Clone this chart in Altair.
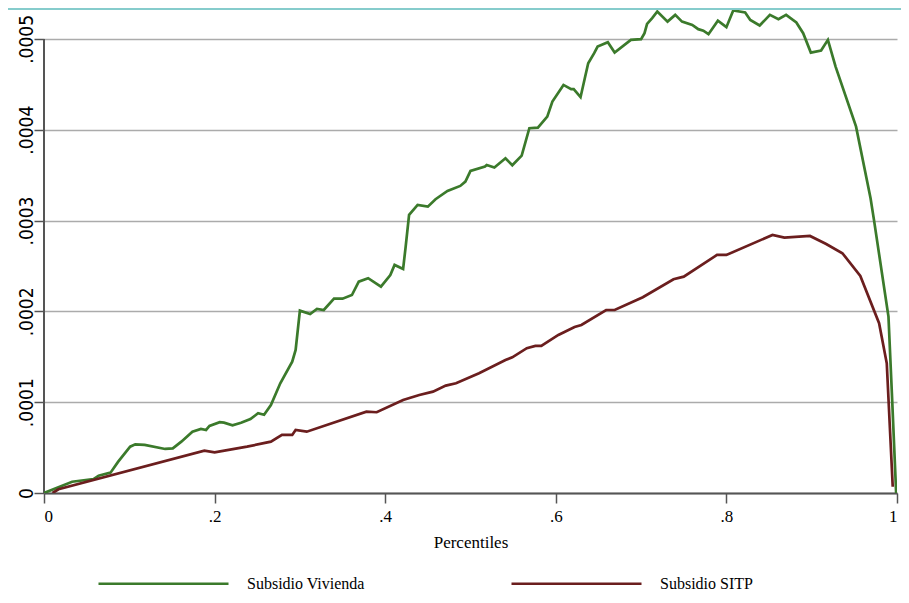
import altair as alt
import pandas as pd

series_names = ["Subsidio Vivienda", "Subsidio SITP"]
series_colors = ["#3b7a2b", "#6b1e1e"]

# Subsidio Vivienda (percentile, value)
pct_viv = [0.000, 0.033, 0.058, 0.064, 0.078, 0.087, 0.101, 0.107, 0.118, 0.142,
           0.151, 0.161, 0.174, 0.184, 0.190, 0.194, 0.206, 0.211, 0.221, 0.231,
           0.242, 0.251, 0.258, 0.266, 0.277, 0.291, 0.295, 0.300, 0.312, 0.320,
           0.328, 0.340, 0.350, 0.361, 0.369, 0.380, 0.395, 0.406, 0.411, 0.421,
           0.424, 0.428, 0.438, 0.450, 0.459, 0.473, 0.488, 0.494, 0.500, 0.517,
           0.519, 0.528, 0.541, 0.549, 0.560, 0.569, 0.579, 0.590, 0.596, 0.609,
           0.618, 0.621, 0.629, 0.634, 0.638, 0.645, 0.649, 0.661, 0.669, 0.688,
           0.700, 0.704, 0.707, 0.713, 0.719, 0.731, 0.740, 0.748, 0.760, 0.767,
           0.773, 0.779, 0.790, 0.800, 0.808, 0.822, 0.828, 0.839, 0.851, 0.861,
           0.870, 0.882, 0.890, 0.899, 0.911, 0.919, 0.928, 0.952, 0.969, 0.973,
           0.990, 0.994, 0.999]
val_viv = [0.000e-4, 0.124e-4, 0.154e-4, 0.190e-4, 0.224e-4, 0.345e-4, 0.510e-4, 0.536e-4, 0.529e-4, 0.485e-4,
           0.492e-4, 0.565e-4, 0.675e-4, 0.705e-4, 0.694e-4, 0.738e-4, 0.779e-4, 0.774e-4, 0.746e-4, 0.774e-4,
           0.815e-4, 0.878e-4, 0.862e-4, 0.969e-4, 1.208e-4, 1.446e-4, 1.575e-4, 2.008e-4, 1.971e-4, 2.026e-4,
           2.015e-4, 2.140e-4, 2.140e-4, 2.180e-4, 2.327e-4, 2.365e-4, 2.272e-4, 2.400e-4, 2.511e-4, 2.467e-4,
           2.713e-4, 3.062e-4, 3.172e-4, 3.153e-4, 3.235e-4, 3.326e-4, 3.381e-4, 3.429e-4, 3.546e-4, 3.594e-4,
           3.612e-4, 3.583e-4, 3.686e-4, 3.609e-4, 3.715e-4, 4.016e-4, 4.023e-4, 4.144e-4, 4.310e-4, 4.493e-4,
           4.446e-4, 4.446e-4, 4.358e-4, 4.567e-4, 4.732e-4, 4.843e-4, 4.915e-4, 4.964e-4, 4.849e-4, 4.989e-4,
           4.997e-4, 5.063e-4, 5.165e-4, 5.228e-4, 5.301e-4, 5.190e-4, 5.264e-4, 5.190e-4, 5.154e-4, 5.107e-4,
           5.091e-4, 5.052e-4, 5.201e-4, 5.129e-4, 5.312e-4, 5.290e-4, 5.209e-4, 5.147e-4, 5.264e-4, 5.217e-4,
           5.264e-4, 5.180e-4, 5.063e-4, 4.849e-4, 4.871e-4, 4.989e-4, 4.695e-4, 4.034e-4, 3.246e-4, 3.007e-4,
           1.942e-4, 1.098e-4, 0.000e-4]

# Subsidio SITP (percentile, value)
pct_sitp = [0.010, 0.017, 0.188, 0.200, 0.238, 0.266, 0.279, 0.291, 0.295, 0.308,
            0.378, 0.390, 0.421, 0.440, 0.456, 0.471, 0.483, 0.510, 0.541, 0.549,
            0.566, 0.576, 0.583, 0.603, 0.622, 0.630, 0.659, 0.669, 0.702, 0.738,
            0.750, 0.789, 0.800, 0.854, 0.868, 0.898, 0.917, 0.936, 0.957, 0.979,
            0.988, 0.995]
val_sitp = [0.000e-4, 0.041e-4, 0.466e-4, 0.448e-4, 0.510e-4, 0.565e-4, 0.639e-4, 0.639e-4, 0.694e-4, 0.675e-4,
            0.895e-4, 0.889e-4, 1.024e-4, 1.079e-4, 1.116e-4, 1.182e-4, 1.208e-4, 1.318e-4, 1.465e-4, 1.494e-4,
            1.594e-4, 1.619e-4, 1.619e-4, 1.740e-4, 1.828e-4, 1.850e-4, 2.015e-4, 2.015e-4, 2.155e-4, 2.353e-4,
            2.382e-4, 2.621e-4, 2.621e-4, 2.841e-4, 2.812e-4, 2.830e-4, 2.742e-4, 2.640e-4, 2.390e-4, 1.869e-4,
            1.428e-4, 0.069e-4]

x_ticks = [0, 0.2, 0.4, 0.6, 0.8, 1]
y_ticks = [0, 0.0001, 0.0002, 0.0003, 0.0004, 0.0005]

df = pd.concat([
    pd.DataFrame({"p": pct_viv, "v": val_viv, "s": series_names[0]}),
    pd.DataFrame({"p": pct_sitp, "v": val_sitp, "s": series_names[1]}),
], ignore_index=True)

W, H = 853, 485
PAD_L, PAD_R = 36, 4
SERIF = "Liberation Serif, Times New Roman, serif"
NARROW = "Liberation Sans Narrow, DejaVu Sans Condensed, Liberation Sans, sans-serif"

x_enc = alt.X("p:Q", scale=alt.Scale(domain=[0, 1], nice=False, zero=False),
              axis=alt.Axis(values=x_ticks, title="Percentiles", grid=False,
                            labelExpr="datum.value == 0 ? '0' : (datum.value == 1 ? '1' : substring(format(datum.value, '.1f'), 1))",
                            tickSize=10, tickColor="#555555", tickWidth=1.5,
                            domainColor="#555555", domainWidth=2,
                            labelFont=SERIF, labelFontSize=17, labelColor="#000000",
                            labelPadding=5, titleFont=SERIF, titleFontSize=17,
                            titleFontWeight="normal", titleColor="#000000", titlePadding=10))
y_scale = alt.Scale(domain=[0, 0.000534], nice=False)
y_enc = alt.Y("v:Q", scale=y_scale,
              axis=alt.Axis(values=y_ticks, title=None, grid=True, gridColor="#ababab", gridWidth=1.3,
                            domain=False, tickSize=10, tickColor="#555555", tickWidth=1.5,
                            labelAngle=-90, labelAlign="center", labelBaseline="alphabetic",
                            labelPadding=2,
                            labelExpr="datum.value == 0 ? '0' : substring(format(datum.value, '.4f'), 1)",
                            labelFont=NARROW, labelFontSize=19, labelColor="#000000"))

lines = alt.Chart(df).mark_line(strokeWidth=2.7, clip=True).encode(
    x=x_enc,
    y=y_enc,
    order="p:Q",
    color=alt.Color("s:N", scale=alt.Scale(domain=series_names, range=series_colors),
                    legend=alt.Legend(orient="none", legendX=53, legendY=509, direction="horizontal",
                                      title=None, symbolType="stroke", symbolSize=16900,
                                      symbolStrokeWidth=2.7, labelFont=SERIF, labelFontSize=16,
                                      labelColor="#000000", labelOffset=17, columnPadding=141,
                                      padding=0)),
)

y_axis_line = alt.Chart(pd.DataFrame({"a": [0]})).mark_rule(color="#555555", strokeWidth=2).encode(
    x=alt.value(0), y=alt.datum(y_ticks[0]), y2=alt.datum(y_ticks[-1])
)

top_border = alt.Chart(pd.DataFrame({"a": [0]})).mark_rule(color="#86cccc", strokeWidth=2).encode(
    x=alt.value(-PAD_L), x2=alt.value(W + PAD_R), y=alt.value(1)
)

chart = alt.layer(y_axis_line, lines, top_border).properties(
    width=W, height=H,
    autosize=alt.AutoSizeParams(type="none"),
    padding={"left": PAD_L, "top": 0, "right": PAD_R, "bottom": 101},
    background="white",
).configure_view(stroke=None)

chart.save("out.html", embed_options={"renderer": "svg", "actions": False})
